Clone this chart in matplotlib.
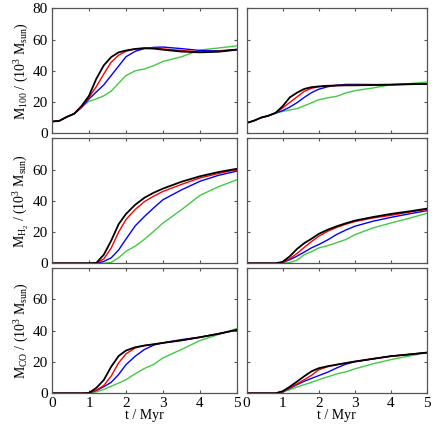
import numpy as np
import matplotlib
matplotlib.use('Agg')
import matplotlib.pyplot as plt

plt.rcParams['font.family'] = ['Liberation Serif', 'DejaVu Serif']
plt.rcParams['mathtext.fontset'] = 'custom'
plt.rcParams['mathtext.rm'] = 'Liberation Serif'
plt.rcParams['mathtext.it'] = 'Liberation Serif:italic'
plt.rcParams['font.size'] = 10

# time grid (Myr) shared by all curves
t = [0, 0.2, 0.4, 0.6, 0.8, 1.0, 1.2, 1.4, 1.6, 1.8, 2.0, 2.25, 2.5, 2.75, 3.0, 3.5, 4.0, 4.5, 5.0]

# left column, row 1: M_100
m100_l_black = [7.5, 8.0, 10.5, 12.5, 17.5, 24, 35, 43.5, 48.8, 51.8, 53, 54, 54.4, 54.2, 53.5, 52.3, 51.8, 52.2, 53.5]
m100_l_red = [7.5, 8.0, 10.5, 12.5, 17, 23, 30, 38, 45.5, 50, 52.5, 54, 54.6, 54.6, 54, 53, 52.2, 52.5, 53.5]
m100_l_blue = [7.5, 8.0, 10.5, 12.5, 16.5, 22, 26.5, 31, 37, 43, 49, 52.5, 54.3, 55, 55.2, 54.2, 53, 52.8, 53.7]
m100_l_green = [7.5, 8.0, 10.5, 12.5, 17, 20.5, 22, 24, 27, 32, 37, 40, 41.2, 43.3, 46, 49, 53.3, 54.6, 56]

# left column, row 2: M_H2
mh2_l_black = [0, 0, 0, 0, 0, 0, 0.3, 5.5, 14.5, 25, 31.6, 37.5, 42, 45.2, 47.8, 52.2, 55.7, 58.4, 60.5]
mh2_l_red = [0, 0, 0, 0, 0, 0, 0.2, 2.8, 9.8, 20, 28, 34.5, 39.5, 43, 46, 50.5, 54.6, 57.5, 60]
mh2_l_blue = [0, 0, 0, 0, 0, 0, 0, 1.2, 3.5, 8.5, 15.5, 24, 30, 35.5, 40.7, 47, 52.5, 56.3, 59]
mh2_l_green = [0, 0, 0, 0, 0, 0, 0, 0, 0.6, 3.5, 7.7, 11, 15.4, 20.5, 25.8, 34.3, 43.5, 49, 53.5]

# left column, row 3: M_CO
mco_l_black = [0, 0, 0, 0, 0, 0.2, 3.5, 8.5, 17, 23.8, 27.3, 29.4, 30.5, 31.3, 32.2, 33.8, 35.8, 38, 40.5]
mco_l_red = [0, 0, 0, 0, 0, 0.2, 2, 5, 11, 19.4, 25.2, 29, 30.5, 31.3, 32.2, 33.8, 35.8, 38, 40.5]
mco_l_blue = [0, 0, 0, 0, 0, 0.2, 1.8, 4.2, 7, 12, 18.3, 23.7, 28, 30.8, 32.2, 34.3, 35.8, 38, 40.5]
mco_l_green = [0, 0, 0, 0, 0, 0.1, 0.9, 2.5, 4.5, 6.5, 8.7, 12.5, 15.9, 18.5, 22.6, 28, 33.7, 37.5, 41.4]

# right column, row 1: M_100
m100_r_black = [6.6, 8, 10, 11.2, 13, 17.3, 23, 26, 28.4, 29.5, 30, 30.4, 30.6, 30.7, 30.7, 30.9, 31.1, 31.4, 31.6]
m100_r_red = [6.6, 8, 10, 11.2, 13, 16.2, 19.8, 23.3, 26.9, 28.8, 29.8, 30.4, 30.6, 30.7, 30.7, 30.9, 31.1, 31.4, 31.6]
m100_r_blue = [6.6, 8, 10, 11.2, 13, 14.5, 16.8, 19.6, 23, 26, 28.2, 29.8, 30.7, 31.3, 31.3, 31.2, 31.2, 31.4, 31.6]
m100_r_green = [6.6, 8, 10, 11.2, 12.8, 14, 14.9, 15.8, 17.6, 19.5, 21.5, 22.7, 23.7, 25.8, 27.3, 29, 31.1, 31.8, 32.8]

# right column, row 2: M_H2
mh2_r_black = [0, 0, 0, 0, 0, 0.9, 4.5, 9.2, 12.9, 15.7, 18.8, 21.5, 23.7, 25.6, 27.3, 29.6, 31.6, 33.2, 35]
mh2_r_red = [0, 0, 0, 0, 0, 0.5, 3, 6.3, 10.2, 13.9, 17.3, 20.5, 23, 25, 26.7, 29, 30.7, 32.7, 34.5]
mh2_r_blue = [0, 0, 0, 0, 0, 0.5, 2.3, 4.6, 7.2, 9.9, 12, 15, 18.5, 21.3, 23.7, 26.9, 29.4, 31.6, 33.7]
mh2_r_green = [0, 0, 0, 0, 0, 0, 0.5, 2, 5.5, 7.5, 9.8, 11.3, 13.2, 15.2, 18.3, 22.6, 25.8, 28.8, 32]

# right column, row 3: M_CO
mco_r_black = [0, 0, 0, 0, 0, 1.3, 4.2, 7.5, 10.9, 14, 16, 17.3, 18.3, 19.3, 20.3, 22, 23.7, 24.8, 26]
mco_r_red = [0, 0, 0, 0, 0, 1, 3.5, 6, 8.7, 11.5, 15, 17, 18.3, 19.3, 20.3, 22, 23.7, 24.8, 26]
mco_r_blue = [0, 0, 0, 0, 0, 1, 3.2, 5.5, 7.7, 9.5, 11.3, 13.5, 16.2, 18.6, 20.1, 22, 23.7, 24.8, 26]
mco_r_green = [0, 0, 0, 0, 0, 0.8, 2.3, 4, 5.5, 7, 8.7, 10.5, 12.4, 13.7, 15.6, 18.8, 21.5, 23.8, 26]

ylabels = [r'M$_{100}$ / (10$^3$ M$_{\rm sun}$)',
           r'M$_{\rm H_2}$ / (10$^3$ M$_{\rm sun}$)',
           r'M$_{\rm CO}$ / (10$^3$ M$_{\rm sun}$)']

panels = [
    [(m100_l_black, m100_l_red, m100_l_blue, m100_l_green),
     (m100_r_black, m100_r_red, m100_r_blue, m100_r_green)],
    [(mh2_l_black, mh2_l_red, mh2_l_blue, mh2_l_green),
     (mh2_r_black, mh2_r_red, mh2_r_blue, mh2_r_green)],
    [(mco_l_black, mco_l_red, mco_l_blue, mco_l_green),
     (mco_r_black, mco_r_red, mco_r_blue, mco_r_green)],
]

W, H = 436, 432
fig = plt.figure(figsize=(W / 100, H / 100), dpi=100)

cols = [(52, 185), (246.5, 180.5)]
rows = [(8.3, 125), (138.3, 125), (268, 125.3)]

for r, (top, h) in enumerate(rows):
    for c, (left, w) in enumerate(cols):
        ax = fig.add_axes([left / W, (H - top - h) / H, w / W, h / H])
        black, red, blue, green = panels[r][c]
        ax.plot(t, green, color='#44c944', lw=1.0)
        ax.plot(t, blue, color='#0000ff', lw=1.0)
        ax.plot(t, red, color='#ff0000', lw=1.0)
        ax.plot(t, black, color='black', lw=1.3)
        ax.set_xlim(0, 5)
        ax.set_ylim(0, 80)
        ax.set_xticks([0, 1, 2, 3, 4, 5])
        ax.set_yticks([0, 20, 40, 60, 80])
        ax.tick_params(direction='in', length=2.5, width=0.8, color='#555555',
                       top=True, right=True, labelsize=11, pad=3)
        for s in ax.spines.values():
            s.set_color('#555555')
            s.set_linewidth(0.9)
        if c == 0:
            ax.set_ylabel(ylabels[r], labelpad=1)
            if r > 0:
                ax.set_yticklabels(['0', '20', '40', '60', ''])
        else:
            ax.tick_params(labelleft=False)
        if r == 2:
            ax.set_xlabel('t / Myr', labelpad=-1)
        else:
            ax.tick_params(labelbottom=False)

fig.savefig('out.png', dpi=100)
